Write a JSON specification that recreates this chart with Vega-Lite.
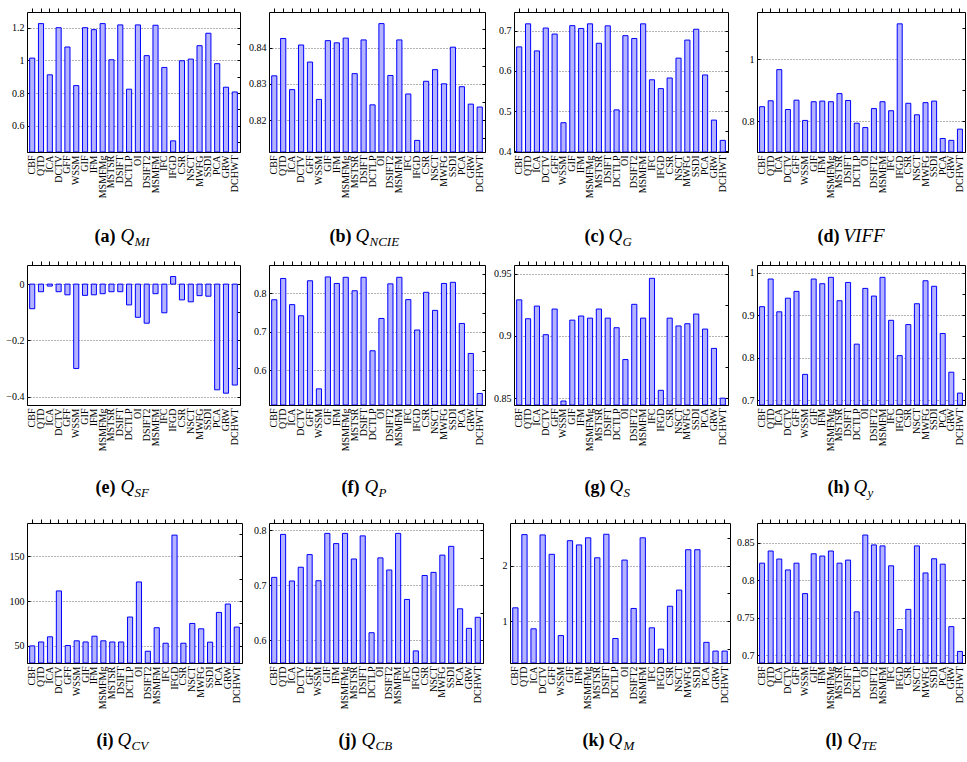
{
  "$schema": "https://vega.github.io/schema/vega-lite/v6.json",
  "padding": {"left": 5, "top": 7, "right": 0, "bottom": 0},
  "background": "white",
  "data": {"values": [
    {"method": "CBF", "MI": 1.014, "NCIE": 0.8322, "G": 0.66, "VIFF": 0.847, "SF": -0.0875, "P": 0.7836, "S": 0.929, "y": 0.92, "CV": 49.6, "CB": 0.7146, "M": 1.238, "TE": 0.8225},
    {"method": "QTD", "MI": 1.225, "NCIE": 0.8425, "G": 0.7175, "VIFF": 0.866, "SF": -0.027, "P": 0.839, "S": 0.9138, "y": 0.985, "CV": 54, "CB": 0.7927, "M": 2.558, "TE": 0.8387},
    {"method": "ICA", "MI": 0.912, "NCIE": 0.8284, "G": 0.65, "VIFF": 0.966, "SF": -0.007, "P": 0.771, "S": 0.924, "y": 0.908, "CV": 59.8, "CB": 0.708, "M": 0.86, "TE": 0.828},
    {"method": "DCTV", "MI": 1.2, "NCIE": 0.8407, "G": 0.707, "VIFF": 0.838, "SF": -0.027, "P": 0.742, "S": 0.901, "y": 0.94, "CV": 111.3, "CB": 0.733, "M": 2.552, "TE": 0.8135},
    {"method": "GFF", "MI": 1.082, "NCIE": 0.836, "G": 0.692, "VIFF": 0.868, "SF": -0.038, "P": 0.833, "S": 0.9216, "y": 0.956, "CV": 50, "CB": 0.756, "M": 2.203, "TE": 0.8225},
    {"method": "WSSM", "MI": 0.846, "NCIE": 0.8257, "G": 0.471, "VIFF": 0.803, "SF": -0.3, "P": 0.552, "S": 0.8477, "y": 0.761, "CV": 55.3, "CB": 0.7085, "M": 0.738, "TE": 0.782},
    {"method": "GIF", "MI": 1.2, "NCIE": 0.8419, "G": 0.713, "VIFF": 0.863, "SF": -0.04, "P": 0.843, "S": 0.9127, "y": 0.985, "CV": 54, "CB": 0.7945, "M": 2.448, "TE": 0.835},
    {"method": "IFM", "MI": 1.188, "NCIE": 0.8413, "G": 0.706, "VIFF": 0.865, "SF": -0.038, "P": 0.826, "S": 0.916, "y": 0.974, "CV": 60.5, "CB": 0.776, "M": 2.372, "TE": 0.832},
    {"method": "MSMFMg", "MI": 1.225, "NCIE": 0.8426, "G": 0.7175, "VIFF": 0.863, "SF": -0.034, "P": 0.842, "S": 0.9143, "y": 0.989, "CV": 55.3, "CB": 0.7945, "M": 2.5, "TE": 0.8387},
    {"method": "MSTSR", "MI": 1.004, "NCIE": 0.8328, "G": 0.669, "VIFF": 0.889, "SF": -0.027, "P": 0.807, "S": 0.9216, "y": 0.934, "CV": 54, "CB": 0.748, "M": 2.14, "TE": 0.8225},
    {"method": "DSIFT", "MI": 1.217, "NCIE": 0.8421, "G": 0.7125, "VIFF": 0.867, "SF": -0.027, "P": 0.842, "S": 0.9143, "y": 0.977, "CV": 54, "CB": 0.79, "M": 2.564, "TE": 0.8266},
    {"method": "DCTLP", "MI": 0.824, "NCIE": 0.8242, "G": 0.503, "VIFF": 0.794, "SF": -0.074, "P": 0.651, "S": 0.9066, "y": 0.832, "CV": 82, "CB": 0.614, "M": 0.686, "TE": 0.7577},
    {"method": "OI", "MI": 1.217, "NCIE": 0.8466, "G": 0.688, "VIFF": 0.78, "SF": -0.118, "P": 0.735, "S": 0.881, "y": 0.963, "CV": 121.4, "CB": 0.75, "M": 2.099, "TE": 0.86},
    {"method": "DSIFT2", "MI": 1.029, "NCIE": 0.8323, "G": 0.681, "VIFF": 0.841, "SF": -0.139, "P": 0.825, "S": 0.9254, "y": 0.945, "CV": 43.6, "CB": 0.728, "M": 1.227, "TE": 0.8468},
    {"method": "MSMFM", "MI": 1.215, "NCIE": 0.8421, "G": 0.7175, "VIFF": 0.863, "SF": -0.034, "P": 0.842, "S": 0.9143, "y": 0.989, "CV": 70, "CB": 0.7945, "M": 2.5, "TE": 0.8455},
    {"method": "IFC", "MI": 0.957, "NCIE": 0.8272, "G": 0.578, "VIFF": 0.834, "SF": -0.102, "P": 0.784, "S": 0.9463, "y": 0.888, "CV": 52.6, "CB": 0.6745, "M": 0.878, "TE": 0.819},
    {"method": "IFGD", "MI": 0.508, "NCIE": 0.8144, "G": 0.556, "VIFF": 1.113, "SF": 0.027, "P": 0.705, "S": 0.8563, "y": 0.805, "CV": 174, "CB": 0.581, "M": 0.494, "TE": 0.7342},
    {"method": "CSR", "MI": 0.998, "NCIE": 0.8307, "G": 0.5825, "VIFF": 0.858, "SF": -0.056, "P": 0.803, "S": 0.9143, "y": 0.878, "CV": 52.6, "CB": 0.718, "M": 1.267, "TE": 0.761},
    {"method": "NSCT", "MI": 1.008, "NCIE": 0.8339, "G": 0.632, "VIFF": 0.821, "SF": -0.063, "P": 0.756, "S": 0.908, "y": 0.927, "CV": 74.8, "CB": 0.7237, "M": 1.558, "TE": 0.8455},
    {"method": "MWFG", "MI": 1.09, "NCIE": 0.83, "G": 0.677, "VIFF": 0.86, "SF": -0.041, "P": 0.826, "S": 0.9098, "y": 0.981, "CV": 68.8, "CB": 0.755, "M": 2.285, "TE": 0.8095},
    {"method": "SSDI", "MI": 1.166, "NCIE": 0.8401, "G": 0.704, "VIFF": 0.865, "SF": -0.043, "P": 0.829, "S": 0.9176, "y": 0.968, "CV": 53.8, "CB": 0.771, "M": 2.285, "TE": 0.8284},
    {"method": "PCA", "MI": 0.98, "NCIE": 0.8292, "G": 0.59, "VIFF": 0.745, "SF": -0.376, "P": 0.722, "S": 0.9055, "y": 0.857, "CV": 87.2, "CB": 0.6575, "M": 0.616, "TE": 0.8212},
    {"method": "GRW", "MI": 0.836, "NCIE": 0.8244, "G": 0.4775, "VIFF": 0.739, "SF": -0.388, "P": 0.644, "S": 0.89, "y": 0.766, "CV": 96.6, "CB": 0.622, "M": 0.459, "TE": 0.738},
    {"method": "DCHWT", "MI": 0.807, "NCIE": 0.8236, "G": 0.427, "VIFF": 0.775, "SF": -0.359, "P": 0.54, "S": 0.85, "y": 0.717, "CV": 70.7, "CB": 0.642, "M": 0.459, "TE": 0.705}
  ]},
  "spacing": 11,
  "vconcat": [
    {"hconcat": [
      {"width": 213, "height": 140, "layer": [
        {"mark": {"type": "bar", "fill": "#b3b3ff", "stroke": "#0000ff", "strokeWidth": 1},
         "encoding": {
           "x": {"field": "method", "type": "nominal", "sort": null, "scale": {"paddingInner": 0.42, "paddingOuter": 0.3}, "axis": {"title": "(a)", "titleX": 88, "titleY": 89, "domain": true, "domainColor": "#000", "zindex": 1}},
           "y": {"field": "MI", "type": "quantitative", "scale": {"domain": [0.44, 1.296], "zero": false, "nice": false}, "axis": {"title": null, "values": [0.6, 0.8, 1, 1.2], "format": ".4~g"}},
           "y2": {"datum": 0.44}}},
        {"mark": {"type": "bar", "opacity": 0},
         "encoding": {
           "x": {"field": "method", "type": "nominal", "sort": null, "scale": {"paddingInner": 0.42, "paddingOuter": 0.3}, "axis": {"orient": "top", "title": "Q", "titleX": 93, "titleY": 229, "labels": false, "ticks": true, "grid": false}},
           "y": {"field": "MI", "type": "quantitative", "scale": {"domain": [0.44, 1.296], "zero": false, "nice": false}, "axis": {"orient": "right", "title": "MI", "titleX": -106, "titleY": 233, "labels": false, "grid": false, "values": [0.5, 0.6, 0.7, 0.8, 0.9, 1, 1.1, 1.2]}},
           "y2": {"datum": 0.44}}}
      ], "resolve": {"axis": {"x": "independent", "y": "independent"}}},
      {"width": 216, "height": 140, "layer": [
        {"mark": {"type": "bar", "fill": "#b3b3ff", "stroke": "#0000ff", "strokeWidth": 1},
         "encoding": {
           "x": {"field": "method", "type": "nominal", "sort": null, "scale": {"paddingInner": 0.42, "paddingOuter": 0.3}, "axis": {"title": "(b)", "titleX": 82, "titleY": 89, "domain": true, "domainColor": "#000", "zindex": 1}},
           "y": {"field": "NCIE", "type": "quantitative", "scale": {"domain": [0.8112, 0.8498], "zero": false, "nice": false}, "axis": {"title": null, "values": [0.82, 0.83, 0.84], "format": ".4~g"}},
           "y2": {"datum": 0.8112}}},
        {"mark": {"type": "bar", "opacity": 0},
         "encoding": {
           "x": {"field": "method", "type": "nominal", "sort": null, "scale": {"paddingInner": 0.42, "paddingOuter": 0.3}, "axis": {"orient": "top", "title": "Q", "titleX": 86, "titleY": 229, "labels": false, "ticks": true, "grid": false}},
           "y": {"field": "NCIE", "type": "quantitative", "scale": {"domain": [0.8112, 0.8498], "zero": false, "nice": false}, "axis": {"orient": "right", "title": "NCIE", "titleX": -116, "titleY": 233, "labels": false, "grid": false, "values": [0.815, 0.82, 0.825, 0.83, 0.835, 0.84, 0.845]}},
           "y2": {"datum": 0.8112}}}
      ], "resolve": {"axis": {"x": "independent", "y": "independent"}}},
      {"width": 214, "height": 140, "layer": [
        {"mark": {"type": "bar", "fill": "#b3b3ff", "stroke": "#0000ff", "strokeWidth": 1},
         "encoding": {
           "x": {"field": "method", "type": "nominal", "sort": null, "scale": {"paddingInner": 0.42, "paddingOuter": 0.3}, "axis": {"title": "(c)", "titleX": 90, "titleY": 89, "domain": true, "domainColor": "#000", "zindex": 1}},
           "y": {"field": "G", "type": "quantitative", "scale": {"domain": [0.398, 0.747], "zero": false, "nice": false}, "axis": {"title": null, "values": [0.4, 0.5, 0.6, 0.7], "format": ".4~g"}},
           "y2": {"datum": 0.398}}},
        {"mark": {"type": "bar", "opacity": 0},
         "encoding": {
           "x": {"field": "method", "type": "nominal", "sort": null, "scale": {"paddingInner": 0.42, "paddingOuter": 0.3}, "axis": {"orient": "top", "title": "Q", "titleX": 94, "titleY": 229, "labels": false, "ticks": true, "grid": false}},
           "y": {"field": "G", "type": "quantitative", "scale": {"domain": [0.398, 0.747], "zero": false, "nice": false}, "axis": {"orient": "right", "title": "G", "titleX": -106, "titleY": 233, "labels": false, "grid": false, "values": [0.4, 0.45, 0.5, 0.55, 0.6, 0.65, 0.7]}},
           "y2": {"datum": 0.398}}}
      ], "resolve": {"axis": {"x": "independent", "y": "independent"}}},
      {"width": 208, "height": 140, "layer": [
        {"mark": {"type": "bar", "fill": "#b3b3ff", "stroke": "#0000ff", "strokeWidth": 1},
         "encoding": {
           "x": {"field": "method", "type": "nominal", "sort": null, "scale": {"paddingInner": 0.42, "paddingOuter": 0.3}, "axis": {"title": "(d)", "titleX": 82, "titleY": 89, "domain": true, "domainColor": "#000", "zindex": 1}},
           "y": {"field": "VIFF", "type": "quantitative", "scale": {"domain": [0.7016, 1.151], "zero": false, "nice": false}, "axis": {"title": null, "values": [0.8, 1], "format": ".4~g"}},
           "y2": {"datum": 0.7016}}},
        {"mark": {"type": "bar", "opacity": 0},
         "encoding": {
           "x": {"field": "method", "type": "nominal", "sort": null, "scale": {"paddingInner": 0.42, "paddingOuter": 0.3}, "axis": {"orient": "top", "title": "VIFF", "titleX": 86, "titleY": 229, "labels": false, "ticks": true, "grid": false}},
           "y": {"field": "VIFF", "type": "quantitative", "scale": {"domain": [0.7016, 1.151], "zero": false, "nice": false}, "axis": {"orient": "right", "title": null, "labels": false, "grid": false, "values": [0.8, 0.9, 1, 1.1]}},
           "y2": {"datum": 0.7016}}}
      ], "resolve": {"axis": {"x": "independent", "y": "independent"}}}
    ], "spacing": 29, "bounds": "flush"},
    {"spacing": 18, "vconcat": [
    {"hconcat": [
      {"width": 213, "height": 140, "layer": [
        {"mark": {"type": "bar", "fill": "#b3b3ff", "stroke": "#0000ff", "strokeWidth": 1},
         "encoding": {
           "x": {"field": "method", "type": "nominal", "sort": null, "scale": {"paddingInner": 0.42, "paddingOuter": 0.3}, "axis": {"title": "(e)", "titleX": 88, "titleY": 87, "domain": true, "domainColor": "#000", "zindex": 1}},
           "y": {"field": "SF", "type": "quantitative", "scale": {"domain": [-0.43, 0.068], "zero": false, "nice": false}, "axis": {"title": null, "values": [-0.4, -0.2, 0], "format": ".4~g"}},
           "y2": {"datum": 0}}},
        {"mark": {"type": "bar", "opacity": 0},
         "encoding": {
           "x": {"field": "method", "type": "nominal", "sort": null, "scale": {"paddingInner": 0.42, "paddingOuter": 0.3}, "axis": {"orient": "top", "title": "Q", "titleX": 93, "titleY": 227, "labels": false, "ticks": true, "grid": false}},
           "y": {"field": "SF", "type": "quantitative", "scale": {"domain": [-0.43, 0.068], "zero": false, "nice": false}, "axis": {"orient": "right", "title": "SF", "titleX": -106, "titleY": 231, "labels": false, "grid": false, "values": [-0.4, -0.3, -0.2, -0.1, 0]}},
           "y2": {"datum": 0}}}
      ], "resolve": {"axis": {"x": "independent", "y": "independent"}}},
      {"width": 216, "height": 140, "layer": [
        {"mark": {"type": "bar", "fill": "#b3b3ff", "stroke": "#0000ff", "strokeWidth": 1},
         "encoding": {
           "x": {"field": "method", "type": "nominal", "sort": null, "scale": {"paddingInner": 0.42, "paddingOuter": 0.3}, "axis": {"title": "(f)", "titleX": 90, "titleY": 87, "domain": true, "domainColor": "#000", "zindex": 1}},
           "y": {"field": "P", "type": "quantitative", "scale": {"domain": [0.51, 0.874], "zero": false, "nice": false}, "axis": {"title": null, "values": [0.6, 0.7, 0.8], "format": ".4~g"}},
           "y2": {"datum": 0.51}}},
        {"mark": {"type": "bar", "opacity": 0},
         "encoding": {
           "x": {"field": "method", "type": "nominal", "sort": null, "scale": {"paddingInner": 0.42, "paddingOuter": 0.3}, "axis": {"orient": "top", "title": "Q", "titleX": 95, "titleY": 227, "labels": false, "ticks": true, "grid": false}},
           "y": {"field": "P", "type": "quantitative", "scale": {"domain": [0.51, 0.874], "zero": false, "nice": false}, "axis": {"orient": "right", "title": "P", "titleX": -107, "titleY": 231, "labels": false, "grid": false, "values": [0.55, 0.6, 0.65, 0.7, 0.75, 0.8, 0.85]}},
           "y2": {"datum": 0.51}}}
      ], "resolve": {"axis": {"x": "independent", "y": "independent"}}},
      {"width": 214, "height": 140, "layer": [
        {"mark": {"type": "bar", "fill": "#b3b3ff", "stroke": "#0000ff", "strokeWidth": 1},
         "encoding": {
           "x": {"field": "method", "type": "nominal", "sort": null, "scale": {"paddingInner": 0.42, "paddingOuter": 0.3}, "axis": {"title": "(g)", "titleX": 91, "titleY": 87, "domain": true, "domainColor": "#000", "zindex": 1}},
           "y": {"field": "S", "type": "quantitative", "scale": {"domain": [0.8445, 0.957], "zero": false, "nice": false}, "axis": {"title": null, "values": [0.85, 0.9, 0.95], "format": ".4~g"}},
           "y2": {"datum": 0.8445}}},
        {"mark": {"type": "bar", "opacity": 0},
         "encoding": {
           "x": {"field": "method", "type": "nominal", "sort": null, "scale": {"paddingInner": 0.42, "paddingOuter": 0.3}, "axis": {"orient": "top", "title": "Q", "titleX": 95, "titleY": 227, "labels": false, "ticks": true, "grid": false}},
           "y": {"field": "S", "type": "quantitative", "scale": {"domain": [0.8445, 0.957], "zero": false, "nice": false}, "axis": {"orient": "right", "title": "S", "titleX": -105, "titleY": 231, "labels": false, "grid": false, "values": [0.85, 0.875, 0.9, 0.925, 0.95]}},
           "y2": {"datum": 0.8445}}}
      ], "resolve": {"axis": {"x": "independent", "y": "independent"}}},
      {"width": 208, "height": 140, "layer": [
        {"mark": {"type": "bar", "fill": "#b3b3ff", "stroke": "#0000ff", "strokeWidth": 1},
         "encoding": {
           "x": {"field": "method", "type": "nominal", "sort": null, "scale": {"paddingInner": 0.42, "paddingOuter": 0.3}, "axis": {"title": "(h)", "titleX": 92, "titleY": 87, "domain": true, "domainColor": "#000", "zindex": 1}},
           "y": {"field": "y", "type": "quantitative", "scale": {"domain": [0.689, 1.018], "zero": false, "nice": false}, "axis": {"title": null, "values": [0.7, 0.8, 0.9, 1], "format": ".4~g"}},
           "y2": {"datum": 0.689}}},
        {"mark": {"type": "bar", "opacity": 0},
         "encoding": {
           "x": {"field": "method", "type": "nominal", "sort": null, "scale": {"paddingInner": 0.42, "paddingOuter": 0.3}, "axis": {"orient": "top", "title": "Q", "titleX": 96, "titleY": 227, "labels": false, "ticks": true, "grid": false}},
           "y": {"field": "y", "type": "quantitative", "scale": {"domain": [0.689, 1.018], "zero": false, "nice": false}, "axis": {"orient": "right", "title": "y", "titleX": -98, "titleY": 231, "labels": false, "grid": false, "values": [0.7, 0.75, 0.8, 0.85, 0.9, 0.95, 1]}},
           "y2": {"datum": 0.689}}}
      ], "resolve": {"axis": {"x": "independent", "y": "independent"}}}
    ], "spacing": 29, "bounds": "flush"},
    {"hconcat": [
      {"width": 215, "height": 140, "layer": [
        {"mark": {"type": "bar", "fill": "#b3b3ff", "stroke": "#0000ff", "strokeWidth": 1},
         "encoding": {
           "x": {"field": "method", "type": "nominal", "sort": null, "scale": {"paddingInner": 0.42, "paddingOuter": 0.3}, "axis": {"title": "(i)", "titleX": 86, "titleY": 82, "domain": true, "domainColor": "#000", "zindex": 1}},
           "y": {"field": "CV", "type": "quantitative", "scale": {"domain": [30.4, 187.6], "zero": false, "nice": false}, "axis": {"title": null, "values": [50, 100, 150], "format": ".4~g"}},
           "y2": {"datum": 30.4}}},
        {"mark": {"type": "bar", "opacity": 0},
         "encoding": {
           "x": {"field": "method", "type": "nominal", "sort": null, "scale": {"paddingInner": 0.42, "paddingOuter": 0.3}, "axis": {"orient": "top", "title": "Q", "titleX": 90, "titleY": 222, "labels": false, "ticks": true, "grid": false}},
           "y": {"field": "CV", "type": "quantitative", "scale": {"domain": [30.4, 187.6], "zero": false, "nice": false}, "axis": {"orient": "right", "title": "CV", "titleX": -111, "titleY": 226, "labels": false, "grid": false, "values": [50, 75, 100, 125, 150, 175]}},
           "y2": {"datum": 30.4}}}
      ], "resolve": {"axis": {"x": "independent", "y": "independent"}}},
      {"width": 214, "height": 140, "layer": [
        {"mark": {"type": "bar", "fill": "#b3b3ff", "stroke": "#0000ff", "strokeWidth": 1},
         "encoding": {
           "x": {"field": "method", "type": "nominal", "sort": null, "scale": {"paddingInner": 0.42, "paddingOuter": 0.3}, "axis": {"title": "(j)", "titleX": 87, "titleY": 82, "domain": true, "domainColor": "#000", "zindex": 1}},
           "y": {"field": "CB", "type": "quantitative", "scale": {"domain": [0.559, 0.8134], "zero": false, "nice": false}, "axis": {"title": null, "values": [0.6, 0.7, 0.8], "format": ".4~g"}},
           "y2": {"datum": 0.559}}},
        {"mark": {"type": "bar", "opacity": 0},
         "encoding": {
           "x": {"field": "method", "type": "nominal", "sort": null, "scale": {"paddingInner": 0.42, "paddingOuter": 0.3}, "axis": {"orient": "top", "title": "Q", "titleX": 92, "titleY": 222, "labels": false, "ticks": true, "grid": false}},
           "y": {"field": "CB", "type": "quantitative", "scale": {"domain": [0.559, 0.8134], "zero": false, "nice": false}, "axis": {"orient": "right", "title": "CB", "titleX": -108, "titleY": 226, "labels": false, "grid": false, "values": [0.6, 0.65, 0.7, 0.75, 0.8]}},
           "y2": {"datum": 0.559}}}
      ], "resolve": {"axis": {"x": "independent", "y": "independent"}}},
      {"width": 220, "height": 140, "layer": [
        {"mark": {"type": "bar", "fill": "#b3b3ff", "stroke": "#0000ff", "strokeWidth": 1},
         "encoding": {
           "x": {"field": "method", "type": "nominal", "sort": null, "scale": {"paddingInner": 0.42, "paddingOuter": 0.3}, "axis": {"title": "(k)", "titleX": 94, "titleY": 82, "domain": true, "domainColor": "#000", "zindex": 1}},
           "y": {"field": "M", "type": "quantitative", "scale": {"domain": [0.244, 2.767], "zero": false, "nice": false}, "axis": {"title": null, "values": [1, 2], "format": ".4~g"}},
           "y2": {"datum": 0.244}}},
        {"mark": {"type": "bar", "opacity": 0},
         "encoding": {
           "x": {"field": "method", "type": "nominal", "sort": null, "scale": {"paddingInner": 0.42, "paddingOuter": 0.3}, "axis": {"orient": "top", "title": "Q", "titleX": 98, "titleY": 222, "labels": false, "ticks": true, "grid": false}},
           "y": {"field": "M", "type": "quantitative", "scale": {"domain": [0.244, 2.767], "zero": false, "nice": false}, "axis": {"orient": "right", "title": "M", "titleX": -107, "titleY": 226, "labels": false, "grid": false, "values": [0.5, 1, 1.5, 2, 2.5]}},
           "y2": {"datum": 0.244}}}
      ], "resolve": {"axis": {"x": "independent", "y": "independent"}}},
      {"width": 208, "height": 140, "layer": [
        {"mark": {"type": "bar", "fill": "#b3b3ff", "stroke": "#0000ff", "strokeWidth": 1},
         "encoding": {
           "x": {"field": "method", "type": "nominal", "sort": null, "scale": {"paddingInner": 0.42, "paddingOuter": 0.3}, "axis": {"title": "(l)", "titleX": 85, "titleY": 82, "domain": true, "domainColor": "#000", "zindex": 1}},
           "y": {"field": "TE", "type": "quantitative", "scale": {"domain": [0.6896, 0.876], "zero": false, "nice": false}, "axis": {"title": null, "values": [0.7, 0.75, 0.8, 0.85], "format": ".4~g"}},
           "y2": {"datum": 0.6896}}},
        {"mark": {"type": "bar", "opacity": 0},
         "encoding": {
           "x": {"field": "method", "type": "nominal", "sort": null, "scale": {"paddingInner": 0.42, "paddingOuter": 0.3}, "axis": {"orient": "top", "title": "Q", "titleX": 90, "titleY": 222, "labels": false, "ticks": true, "grid": false}},
           "y": {"field": "TE", "type": "quantitative", "scale": {"domain": [0.6896, 0.876], "zero": false, "nice": false}, "axis": {"orient": "right", "title": "TE", "titleX": -104, "titleY": 226, "labels": false, "grid": false, "values": [0.7, 0.75, 0.8, 0.85]}},
           "y2": {"datum": 0.6896}}}
      ], "resolve": {"axis": {"x": "independent", "y": "independent"}}}
    ], "spacing": 27, "bounds": "flush"}
    ]}
  ],
  "config": {
    "font": "Liberation Serif",
    "view": {"stroke": "#000000", "strokeWidth": 1},
    "axis": {"labelFont": "Liberation Serif", "labelFontSize": 10, "labelColor": "#000000", "titleFont": "Liberation Serif", "titleColor": "#000000", "tickColor": "#000000", "domain": false},
    "axisBottom": {"labelAngle": -90, "ticks": false, "labelPadding": 3, "labelOverlap": false, "labelBound": false, "titleFontSize": 18, "titleFontWeight": "bold", "titleAlign": "right", "titleBaseline": "alphabetic", "titleAngle": 0},
    "axisTop": {"labels": false, "ticks": true, "tickSize": 4, "titleFontSize": 19, "titleFontStyle": "italic", "titleFontWeight": "normal", "titleAlign": "left", "titleBaseline": "alphabetic", "titleAngle": 0},
    "axisLeft": {"tickSize": -3, "labelPadding": 6, "gridDash": [1, 2], "gridColor": "#666666"},
    "axisRight": {"labels": false, "tickSize": -3, "titleFontSize": 13, "titleFontStyle": "italic", "titleFontWeight": "normal", "titleAlign": "left", "titleBaseline": "alphabetic", "titleAngle": 0}
  }
}
